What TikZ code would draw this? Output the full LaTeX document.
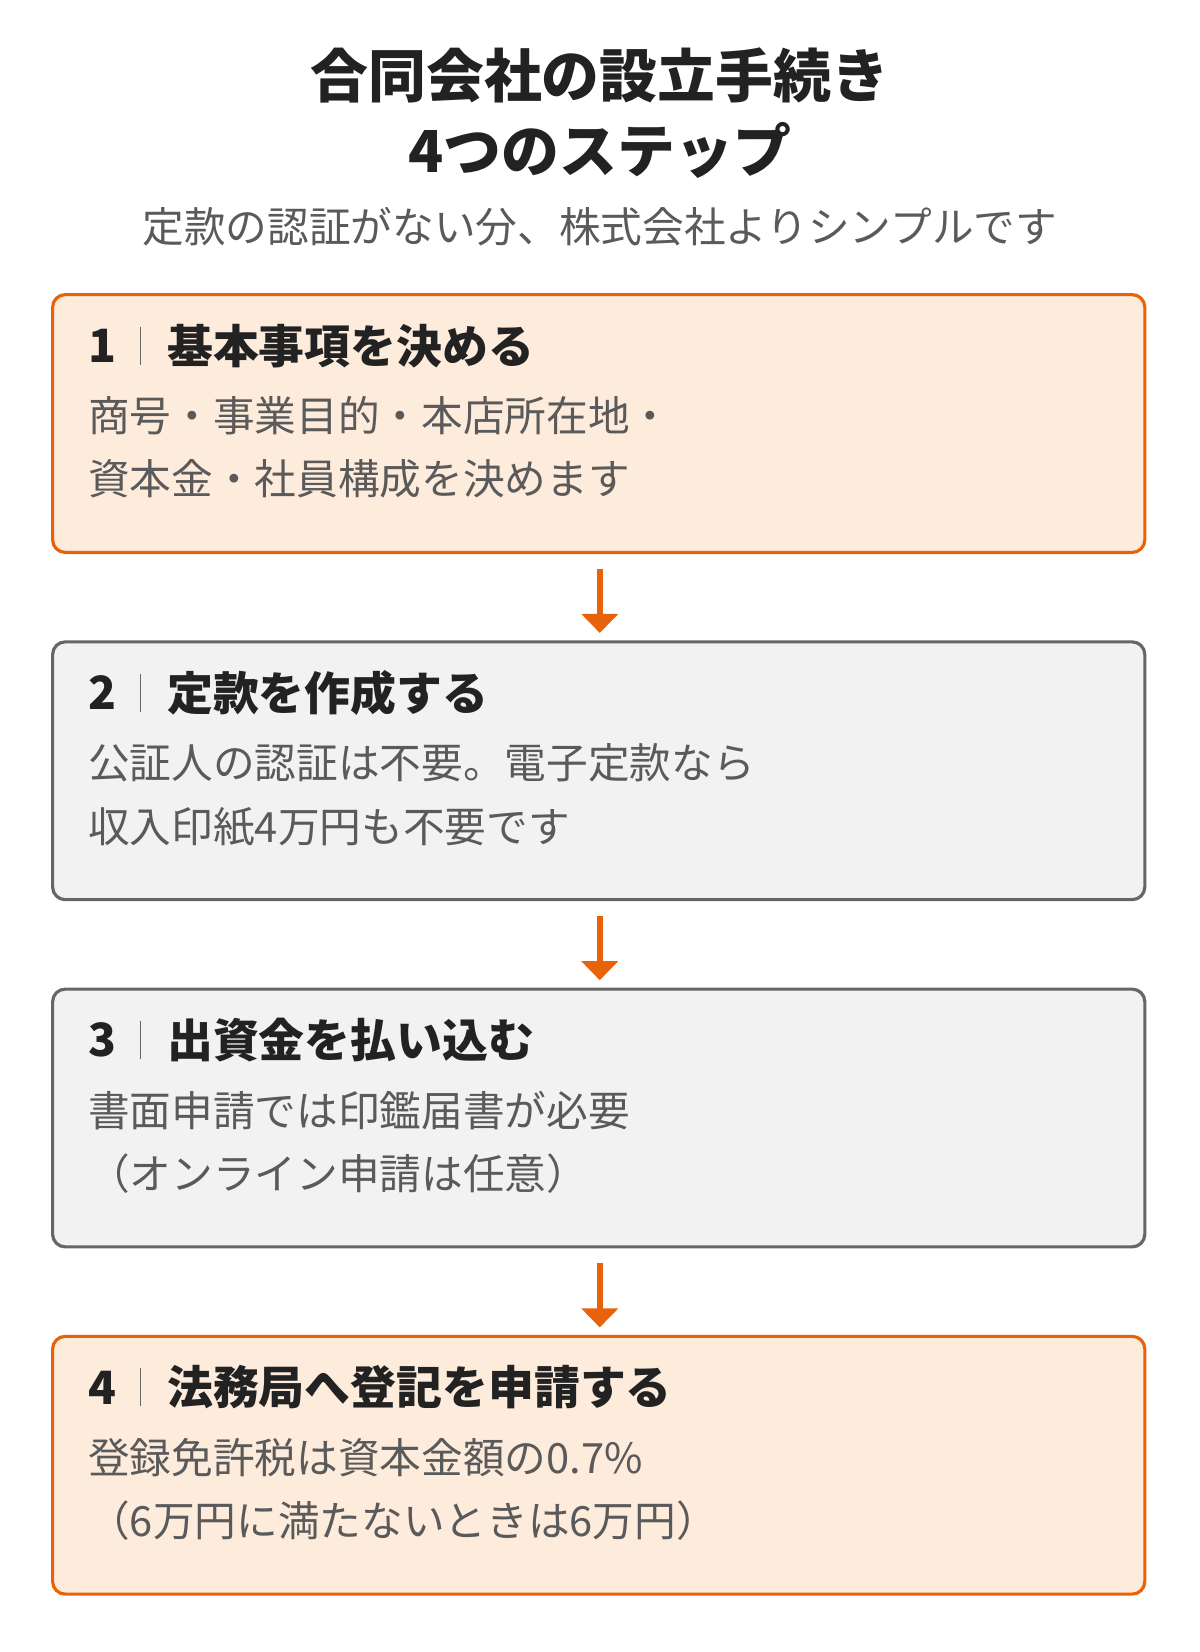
\documentclass[tikz,border=0pt]{standalone}
\usepackage{fontspec}
\setmainfont{Noto Sans CJK JP}
\usepackage{tikz}
\usetikzlibrary{arrows.meta,positioning,calc}
\definecolor{stepOrange}{RGB}{232,98,10}
\definecolor{lightOrange}{RGB}{253,235,220}
\definecolor{boxGray}{RGB}{242,242,242}
\definecolor{lineGray}{RGB}{102,102,102}
\definecolor{textGray}{RGB}{90,90,90}
\definecolor{darkText}{RGB}{34,34,34}
\tikzset{
  stepbox/.style={draw, line width=1.5pt, rounded corners=6pt, minimum width=519pt, minimum height=122.5pt, inner sep=0pt},
  hot/.style={stepbox, draw=stepOrange, fill=lightOrange},
  plain/.style={stepbox, draw=lineGray, fill=boxGray},
  head/.style={anchor=west, inner sep=0pt, font=\bfseries\fontsize{21.8}{24}\selectfont, text=darkText},
  body/.style={anchor=north west, inner sep=0pt, align=left, font=\fontsize{19.8}{30}\selectfont, text=textGray},
  flow/.style={-{Triangle[length=9pt,width=17pt]}, line width=3pt, draw=stepOrange}
}
\begin{document}
\begin{tikzpicture}[x=0.5pt,y=-0.5pt]
\useasboundingbox (0,0) rectangle (1140,1570);
% Title
\node[font=\bfseries\fontsize{27.5}{30}\selectfont, text=darkText] (title1) at (570,72) {合同会社の設立手続き};
\node[font=\bfseries\fontsize{27.5}{30}\selectfont, text=darkText] (title2) at (570,143) {4つのステップ};
\node[font=\fontsize{19.8}{22}\selectfont, text=textGray] (sub) at (570,215) {定款の認証がない分、株式会社よりシンプルです};

% Boxes
\node[hot] (s1) at (569,402.5) {};
\node[plain] (s2) at (569,732.5) {};
\node[plain] (s3) at (569,1062.5) {};
\node[hot] (s4) at (569,1392.5) {};

% Step numbers and separators
\foreach \n/\k in {s1/1,s2/2,s3/3,s4/4}{
  \node[head] (\n num) at ($(\n.north west)+(35,50)$) {\k};
  \draw[lineGray, line width=0.6pt] ($(\n num.west)+(50,-18)$) -- ($(\n num.west)+(50,18)$);
}
\node[head] (s1head) at ($(s1num.west)+(75,0)$) {基本事項を決める};
\node[head] (s2head) at ($(s2num.west)+(75,0)$) {定款を作成する};
\node[head] (s3head) at ($(s3num.west)+(75,0)$) {出資金を払い込む};
\node[head] (s4head) at ($(s4num.west)+(75,0)$) {法務局へ登記を申請する};
\node[body] (s1text) at ($(s1num.west)+(0,48)$) {商号・事業目的・本店所在地・\\資本金・社員構成を決めます};
\node[body] (s2text) at ($(s2num.west)+(0,48)$) {公証人の認証は不要。電子定款なら\\収入印紙4万円も不要です};
\node[body] (s3text) at ($(s3num.west)+(0,48)$) {書面申請では印鑑届書が必要\\（オンライン申請は任意）};
\node[body] (s4text) at ($(s4num.west)+(0,48)$) {登録免許税は資本金額の0.7\%\\（6万円に満たないときは6万円）};

% Arrows
\draw[flow] ($(s1.south)+(1,14)$) -- ($(s2.north)+(1,-7)$);
\draw[flow] ($(s2.south)+(1,14)$) -- ($(s3.north)+(1,-7)$);
\draw[flow] ($(s3.south)+(1,14)$) -- ($(s4.north)+(1,-7)$);
\end{tikzpicture}
\end{document}
